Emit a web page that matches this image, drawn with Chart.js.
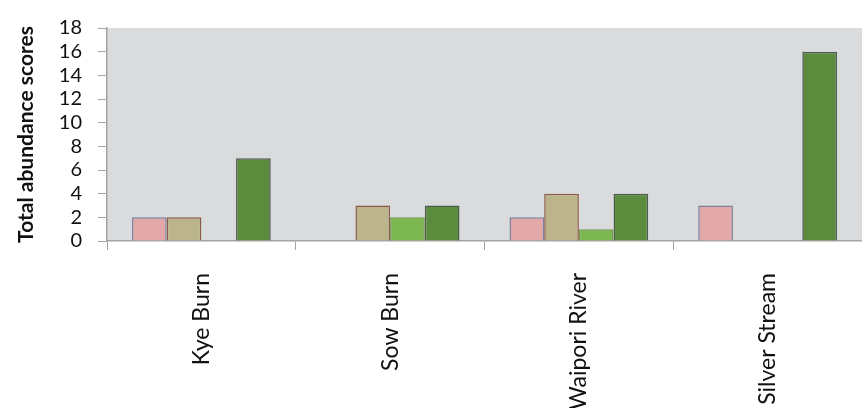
<!DOCTYPE html>
<html>
<head>
<meta charset="utf-8">
<script src="https://cdn.jsdelivr.net/npm/chart.js@4/dist/chart.umd.min.js"></script>
<style>
  html, body { margin: 0; padding: 0; background: #ffffff; overflow: hidden; }
  #wrap { width: 862px; height: 408px; position: relative; }
</style>
</head>
<body>
<div id="wrap"><canvas id="c" width="862" height="408"></canvas></div>
<script>
// Sites along the x axis
const sites = ['Kye Burn', 'Sow Burn', 'Waipori River', 'Silver Stream'];

// Abundance scores per series, one value per site
const seriesA = [2, 0, 2, 3];
const seriesB = [2, 3, 4, 0];
const seriesC = [0, 2, 1, 0];
const seriesD = [7, 3, 4, 16];

// Y axis ticks
const yTicks = [0, 2, 4, 6, 8, 10, 12, 14, 16, 18];

const fontFamily = 'Lato, "Open Sans", "Liberation Sans", sans-serif';

// Grey fill behind the plotting area
const plotBackground = {
  id: 'plotBackground',
  beforeDraw(chart) {
    const { ctx, chartArea: a } = chart;
    ctx.save();
    ctx.fillStyle = '#d9dbdd';
    ctx.fillRect(a.left, a.top, a.right - a.left, a.bottom - a.top);
    ctx.restore();
  }
};

new Chart(document.getElementById('c'), {
  type: 'bar',
  data: {
    labels: sites,
    datasets: [
      { data: seriesA, backgroundColor: '#e3a9a9', borderColor: '#7d7f9c', borderWidth: 1.5 },
      { data: seriesB, backgroundColor: '#bcb58c', borderColor: '#8c5a48', borderWidth: 1.5 },
      { data: seriesC, backgroundColor: '#7db750', borderColor: '#6c9a47', borderWidth: 1.5 },
      { data: seriesD, backgroundColor: '#5b8b3d', borderColor: '#4e5a4c', borderWidth: 1.5 }
    ]
  },
  options: {
    responsive: false,
    animation: false,
    layout: { padding: { top: 10, right: 0, left: 8, bottom: 0 } },
    datasets: { bar: { categoryPercentage: 0.735, barPercentage: 1.0 } },
    plugins: {
      legend: { display: false },
      tooltip: { enabled: false }
    },
    scales: {
      x: {
        grid: { display: true, drawOnChartArea: false, offset: true, color: '#a4a4a4', tickLength: 9, lineWidth: 1 },
        border: { display: true, color: '#a4a4a4', width: 1.5 },
        ticks: {
          maxRotation: 90, minRotation: 90, autoSkip: false,
          color: '#111111', padding: 23,
          font: { family: fontFamily, size: 23 }
        },
        afterFit(scale) { scale.height = 408 - 241; }
      },
      y: {
        min: 0, max: 18,
        afterBuildTicks(scale) { scale.ticks = yTicks.map(v => ({ value: v })); },
        grid: { display: true, drawOnChartArea: false, color: '#a4a4a4', tickLength: 9, lineWidth: 1 },
        border: { display: true, color: '#a4a4a4', width: 1.5 },
        ticks: {
          autoSkip: false,
          color: '#111111', padding: 16,
          font: { family: fontFamily, size: 20 }
        },
        title: {
          display: true, text: 'Total abundance scores', color: '#111111',
          padding: { top: 6, bottom: 4 },
          font: { family: fontFamily, size: 21, weight: 'bold' }
        },
        afterFit(scale) { scale.width = 99; }
      }
    }
  },
  plugins: [plotBackground]
});
</script>
</body>
</html>
